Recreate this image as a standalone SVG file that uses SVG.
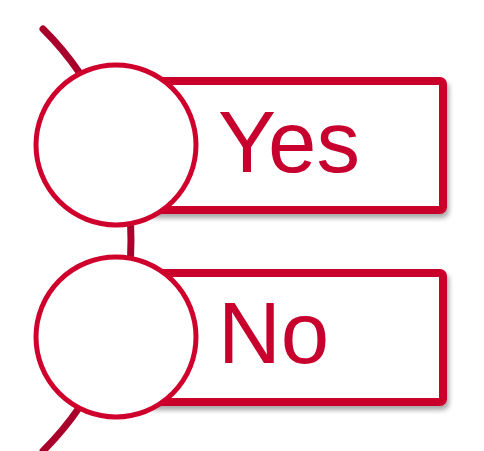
<svg xmlns="http://www.w3.org/2000/svg" width="484" height="451" viewBox="0 0 484 451">
<defs>
<filter id="sh" x="-10%" y="-10%" width="125%" height="130%">
<feGaussianBlur in="SourceAlpha" stdDeviation="2.5"/>
<feOffset dx="2" dy="4" result="b"/>
<feComponentTransfer><feFuncA type="linear" slope="0.35"/></feComponentTransfer>
<feMerge><feMergeNode/><feMergeNode in="SourceGraphic"/></feMerge>
</filter>
<style>
.conn{fill:none;stroke:#a8002a;stroke-width:7;stroke-linecap:round}
.box{fill:#fff;stroke:#c8002c;stroke-width:8}
.circ{fill:#fff;stroke:#d0002d;stroke-width:5}
.lbl{font-family:"Liberation Sans",Arial,sans-serif;font-size:87px;fill:#c8002e}
</style>
</defs>
<rect width="484" height="451" fill="#fff"/>
<g id="connectors">
<path class="conn" d="M43,29 A297,297 0 0 1 43,451"/>
</g>
<g id="yes">
<rect class="box" x="150" y="81" width="293" height="129" rx="3" filter="url(#sh)"/>
<circle class="circ" cx="116" cy="145" r="80"/>
<text class="lbl" x="218" y="172">Yes</text>
</g>
<g id="no">
<rect class="box" x="150" y="273" width="293" height="129" rx="3" filter="url(#sh)"/>
<circle class="circ" cx="116" cy="337" r="80"/>
<text class="lbl" x="218" y="363">No</text>
</g>
</svg>
